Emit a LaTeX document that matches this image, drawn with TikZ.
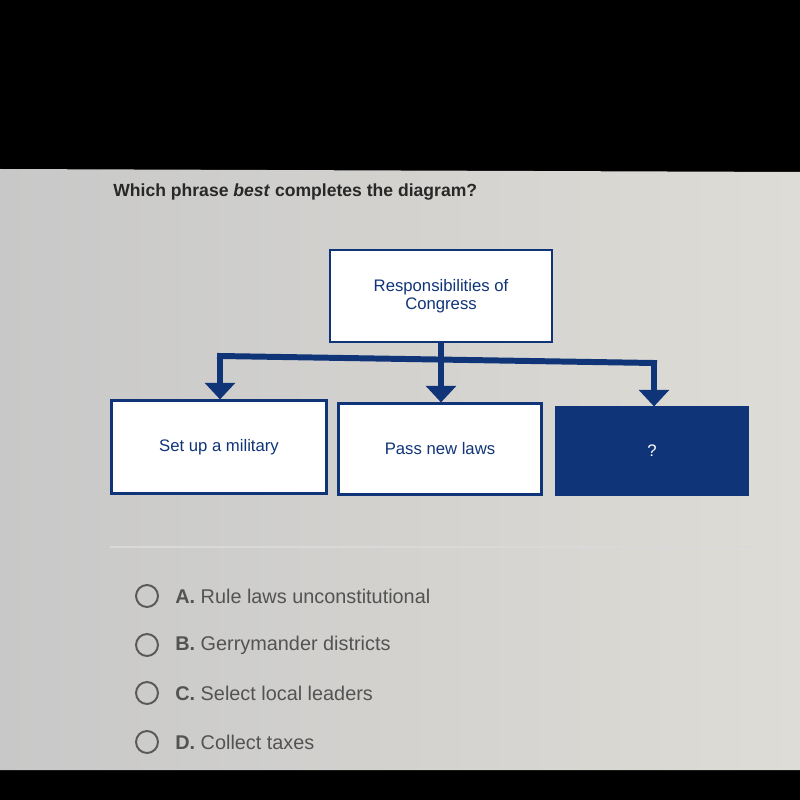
\documentclass[tikz,border=0pt]{standalone}
\usepackage{fontspec}
\setmainfont{Liberation Sans}
\usetikzlibrary{arrows.meta}
\definecolor{navy}{RGB}{16,52,120}
\definecolor{screenL}{RGB}{200,200,200}
\definecolor{screenR}{RGB}{222,220,214}
\definecolor{ink}{RGB}{40,40,40}

\begin{document}
\begin{tikzpicture}[x=0.02cm,y=-0.02cm,
   box/.style={draw=navy,line width=1.2pt,fill=white,align=center,text=navy,
     font=\fontsize{9.5}{10.5}\selectfont},
   link/.style={draw=navy,line width=3.4pt},
   arr/.style={link,-{Triangle[width=17pt,length=9.5pt]}},
   radio/.style={circle,draw=gray!70!black,line width=1.1pt,minimum size=12.5pt,inner sep=0pt},
   opt/.style={anchor=west,inner sep=0pt,text=ink!80,font=\fontsize{11.3}{13}\selectfont}]
\useasboundingbox (0,0) rectangle (800,800);
\fill[black] (0,0) rectangle (800,800);
\shade[left color=screenL,right color=screenR] (0,169) -- (800,172) -- (800,770) -- (0,770) -- cycle;

\node[anchor=base west,inner sep=0pt,font=\bfseries\fontsize{10}{12}\selectfont,text=ink] (q) at (113,197)
  {Which phrase \textit{best} completes the diagram?};

\node[box,minimum width=222*0.02cm,minimum height=92*0.02cm] (top) at (441,296)
  {Responsibilities of\\Congress};
\node[box,minimum width=215*0.02cm,minimum height=93*0.02cm] (mil) at (219,447) {Set up a military};
\node[box,minimum width=203*0.02cm,minimum height=91*0.02cm] (laws) at (440,449) {Pass new laws};
\node[box,fill=navy,text=white,minimum width=191*0.02cm,minimum height=87*0.02cm] (unk) at (652,451) {?};

\coordinate (hub) at (441,359);
\coordinate (barL) at (220,356);
\coordinate (barR) at (654,363);
\draw[link] (top.south) -- (hub);
\draw[link,line cap=rect] (barL) -- (barR);
\draw[arr] (barL) -- (barL |- mil.north);
\draw[arr] (hub) -- (hub |- laws.north);
\draw[arr] (barR) -- (barR |- unk.north);

\draw[gray!30,line width=0.6pt] (110,547) -- (755,547);

\foreach \y/\k/\t [count=\i] in {596/A/Rule laws unconstitutional,
    645/B/Gerrymander districts,693/C/Select local leaders,742/D/Collect taxes}{
  \node[radio] (r\i) at (147,\y) {};
  \node[opt] (o\i) at (175,\y) {\textbf{\k.}\ \t};
}
\end{tikzpicture}
\end{document}
